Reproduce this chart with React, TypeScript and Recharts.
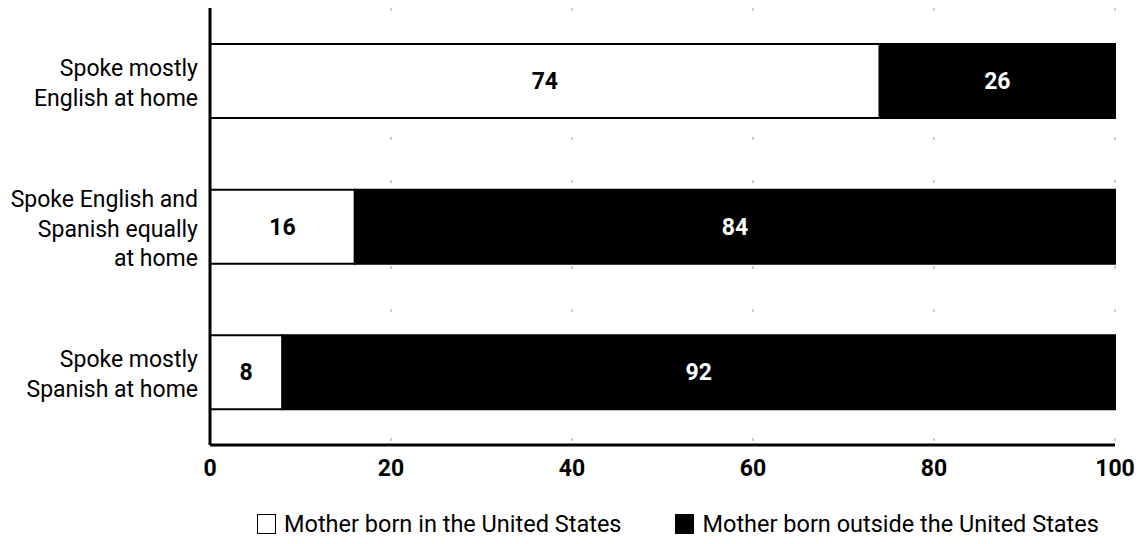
import { BarChart, Bar, XAxis, YAxis, CartesianGrid, Legend, LabelList } from 'recharts';

const categories = [
    ['Spoke mostly', 'English at home'],
    ['Spoke English and', 'Spanish equally', 'at home'],
    ['Spoke mostly', 'Spanish at home'],
];
const bornInUS = [74, 16, 8];
const bornOutside = [26, 84, 92];
const xTicks = [0, 20, 40, 60, 80, 100];

const data = categories.map((lines, i) => ({
    name: lines.join(' '),
    lines,
    us: bornInUS[i],
    outside: bornOutside[i],
}));

const FONT = 'Roboto, "Noto Sans", sans-serif';

function CategoryTick(props: any) {
    const { x, y, payload, index } = props;
    const lines: string[] = data[index]?.lines ?? [payload.value];
    const lh = 29.5;
    const start = y + 2 - ((lines.length - 1) * lh) / 2;
    return (
        <text x={x - 4} y={start} textAnchor="end" fontSize={23} fontFamily={FONT} fill="#000">
            {lines.map((l, i) => (
                <tspan key={i} x={x - 4} y={start + i * lh} dy="0.35em">{l}</tspan>
            ))}
        </text>
    );
}

function LegendContent() {
    const items = [
        { label: 'Mother born in the United States', fill: '#fff' },
        { label: 'Mother born outside the United States', fill: '#000' },
    ];
    return (
        <div style={{ display: 'flex', justifyContent: 'flex-start', gap: 54, fontFamily: FONT, fontSize: 23.5, color: '#000', paddingLeft: 247 }}>
            {items.map((it) => (
                <div key={it.label} style={{ display: 'flex', alignItems: 'center', gap: 8 }}>
                    <span style={{ width: 19, height: 20, background: it.fill, border: '1.5px solid #000', boxSizing: 'border-box', display: 'inline-block' }} />
                    <span>{it.label}</span>
                </div>
            ))}
        </div>
    );
}

export default function App() {
    return (
        <div style={{ position: 'absolute', left: 0, top: 0, background: '#fff' }}>
            <BarChart
                width={1139}
                height={544}
                data={data}
                layout="vertical"
                barSize={74}
                margin={{ top: 8, right: 24, left: 10, bottom: 4 }}
            >
                <CartesianGrid horizontal={false} stroke="#999" strokeDasharray="3 40" />
                <XAxis
                    type="number"
                    domain={[0, 100]}
                    ticks={xTicks}
                    interval={0}
                    axisLine={{ stroke: '#000', strokeWidth: 3 }}
                    tickLine={false}
                    tick={{ fill: '#000', fontSize: 23, fontWeight: 700, fontFamily: FONT }}
                    tickMargin={9}
                    height={65}
                />
                <YAxis
                    type="category"
                    dataKey="name"
                    width={200}
                    axisLine={{ stroke: '#000', strokeWidth: 3 }}
                    tickLine={false}
                    tick={<CategoryTick />}
                />
                <Legend verticalAlign="bottom" height={30} content={<LegendContent />} />
                <Bar dataKey="us" name="Mother born in the United States" stackId="a" fill="#fff" stroke="#000" strokeWidth={2} isAnimationActive={false}>
                    <LabelList dataKey="us" position="center" fill="#000" fontSize={23} fontWeight={700} fontFamily={FONT} />
                </Bar>
                <Bar dataKey="outside" name="Mother born outside the United States" stackId="a" fill="#000" stroke="#000" strokeWidth={2} isAnimationActive={false}>
                    <LabelList dataKey="outside" position="center" fill="#fff" fontSize={23} fontWeight={700} fontFamily={FONT} />
                </Bar>
            </BarChart>
        </div>
    );
}
